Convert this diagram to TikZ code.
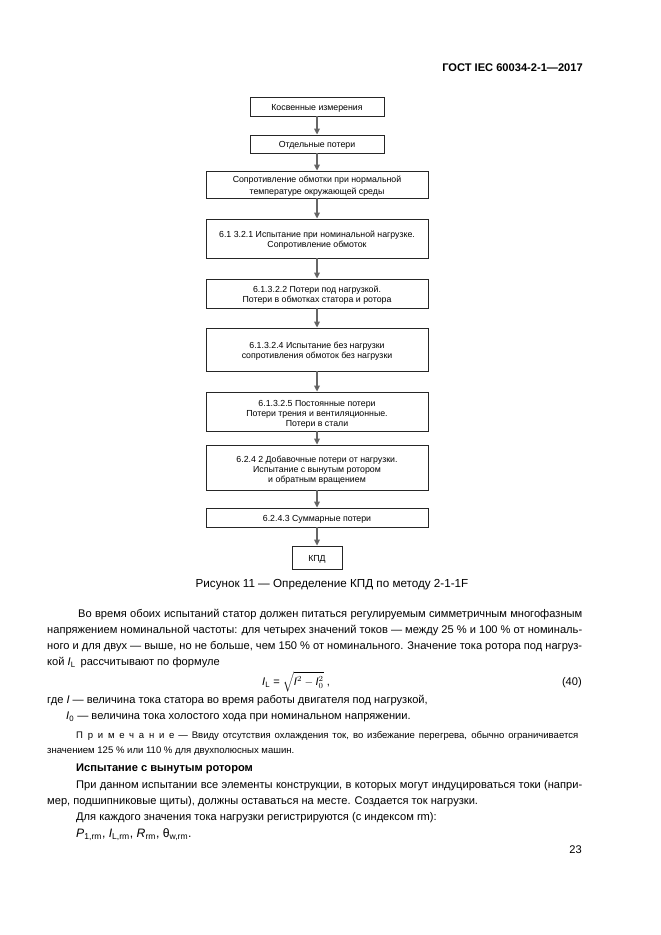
\documentclass[tikz,border=0pt]{standalone}
\usepackage{fontspec}
\usepackage{amsmath}
\setmainfont{Liberation Sans}
\usetikzlibrary{arrows.meta}
\begin{document}
\begin{tikzpicture}[x=0.9pt,y=-0.9pt,
  fbox/.style={draw=black!85, line width=0.65pt, inner sep=0pt, minimum width=199.8pt},
  btext/.style={inner sep=0pt, align=center, font=\fontsize{7.9}{9}\selectfont},
  conn/.style={draw=black!60, line width=1.4pt,
    -{Triangle[length=5.5pt,width=5pt,fill=black!85]}},
  body/.style={anchor=mid west, inner sep=0pt, font=\fontsize{10}{12}\selectfont},
  note/.style={anchor=mid west, inner sep=0pt, font=\fontsize{8.6}{10}\selectfont}]
\useasboundingbox (0,0) rectangle (661,935);
% header and page number
\node[anchor=mid east, inner sep=0pt, font=\bfseries\fontsize{10}{12}\selectfont] (hdr) at (583,69) {ГОСТ IEC 60034-2-1—2017};
\node[anchor=mid east, inner sep=0pt, font=\fontsize{10}{12}\selectfont] (pg) at (582,851) {23};
% flowchart boxes
\node[fbox, minimum width=120.6pt, minimum height=17.1pt] (b1) at (317,106.5) {};
\node[fbox, minimum width=120.6pt, minimum height=16.2pt] (b2) at (317,144) {};
\node[fbox, minimum height=24.3pt] (b3) at (317,184.5) {};
\node[fbox, minimum height=35.1pt] (b4) at (317,238.5) {};
\node[fbox, minimum height=26.1pt] (b5) at (317,293.5) {};
\node[fbox, minimum height=38.7pt] (b6) at (317,349.5) {};
\node[fbox, minimum height=35.1pt] (b7) at (317,411.5) {};
\node[fbox, minimum height=40.5pt] (b8) at (317,467.5) {};
\node[fbox, minimum height=17.1pt] (b9) at (317,517.5) {};
\node[fbox, minimum width=45pt, minimum height=20.7pt] (b10) at (317,557.5) {};
% box texts
\node[btext] (l1) at ([yshift=-1.5pt]b1.center) {Косвенные измерения};
\node[btext] (l2) at ([yshift=-1.5pt]b2.center) {Отдельные потери};
\node[btext] (l3) at ([yshift=-1.5pt]b3.center) {Сопротивление обмотки при нормальной\\[2pt] температуре окружающей среды};
\node[btext] (l4) at ([yshift=-1.5pt]b4.center) {6.1 3.2.1 Испытание при номинальной нагрузке.\\ Сопротивление обмоток};
\node[btext] (l5) at ([yshift=-1.5pt]b5.center) {6.1.3.2.2 Потери под нагрузкой.\\ Потери в обмотках статора и ротора};
\node[btext] (l6) at ([yshift=-1.5pt]b6.center) {6.1.3.2.4 Испытание без нагрузки\\ сопротивления обмоток без нагрузки};
\node[btext] (l7) at ([yshift=-2.5pt]b7.center) {6.1.3.2.5 Постоянные потери\\ Потери трения и вентиляционные.\\ Потери в стали};
\node[btext] (l8) at ([yshift=-2.5pt]b8.center) {6.2.4 2 Добавочные потери от нагрузки.\\ Испытание с вынутым ротором\\ и обратным вращением};
\node[btext] (l9) at ([yshift=-1.5pt]b9.center) {6.2.4.3 Суммарные потери};
\node[btext] (l10) at ([yshift=-1.5pt]b10.center) {КПД};
\draw[conn] (b1) -- (b2);
\draw[conn] (b2) -- (b3);
\draw[conn] (b3) -- (b4);
\draw[conn] (b4) -- (b5);
\draw[conn] (b5) -- (b6);
\draw[conn] (b6) -- (b7);
\draw[conn] (b7) -- (b8);
\draw[conn] (b8) -- (b9);
\draw[conn] (b9) -- (b10);
% caption
\node[inner sep=0pt, font=\fontsize{10.5}{12}\selectfont] (cap) at (332,585) {Рисунок 11 — Определение КПД по методу 2-1-1F};
% body text
\node[body] (t1) at (78,615) {\makebox[453.6pt][s]{Во время обоих испытаний статор должен питаться регулируемым симметричным многофазным}};
\node[body] (t2) at (47,631) {\makebox[481.5pt][s]{напряжением номинальной частоты: для четырех значений токов — между 25 \% и 100 \% от номиналь-}};
\node[body] (t3) at (47,647) {\makebox[481.5pt][s]{ного и для двух — выше, но не больше, чем 150 \% от номинального. Значение тока ротора под нагруз-}};
\node[body] (t4) at (47,663) {кой \textit{I}\textsubscript{L}\, рассчитывают по формуле};
\node[body] (f) at (262,683) {\textit{I}\textsubscript{L} = $\sqrt{\text{\itshape I}^{2} - \text{\itshape I}_{0}^{2}}$ ,};
\node[body, anchor=mid east] (fn) at (582,683) {(40)};
\node[body] (t5) at (47,701) {где \textit{I} — величина тока статора во время работы двигателя под нагрузкой,};
\node[body] (t6) at (66,717) {\textit{I}\textsubscript{0} — величина тока холостого хода при номинальном напряжении.};
\node[note] (n1) at (76,736) {\makebox[451.8pt][s]{{\addfontfeature{LetterSpace=50}Примечание} — Ввиду отсутствия охлаждения ток, во избежание перегрева, обычно ограничивается}};
\node[note] (n2) at (47,751) {значением 125 \% или 110 \% для двухполюсных машин.};
\node[body, font=\bfseries\fontsize{10}{12}\selectfont] (h1) at (76,769) {Испытание с вынутым ротором};
\node[body] (t7) at (76,786) {\makebox[455.4pt][s]{При данном испытании все элементы конструкции, в которых могут индуцироваться токи (напри-}};
\node[body] (t8) at (47,802) {мер, подшипниковые щиты), должны оставаться на месте. Создается ток нагрузки.};
\node[body] (t9) at (76,818) {Для каждого значения тока нагрузки регистрируются (с индексом rm):};
\node[body, font=\fontsize{11}{13}\selectfont] (t10) at (76,835) {\textit{P}\textsubscript{1,rm}, \textit{I}\textsubscript{L,rm}, \textit{R}\textsubscript{rm}, θ\textsubscript{w,rm}.};
\end{tikzpicture}
\end{document}
